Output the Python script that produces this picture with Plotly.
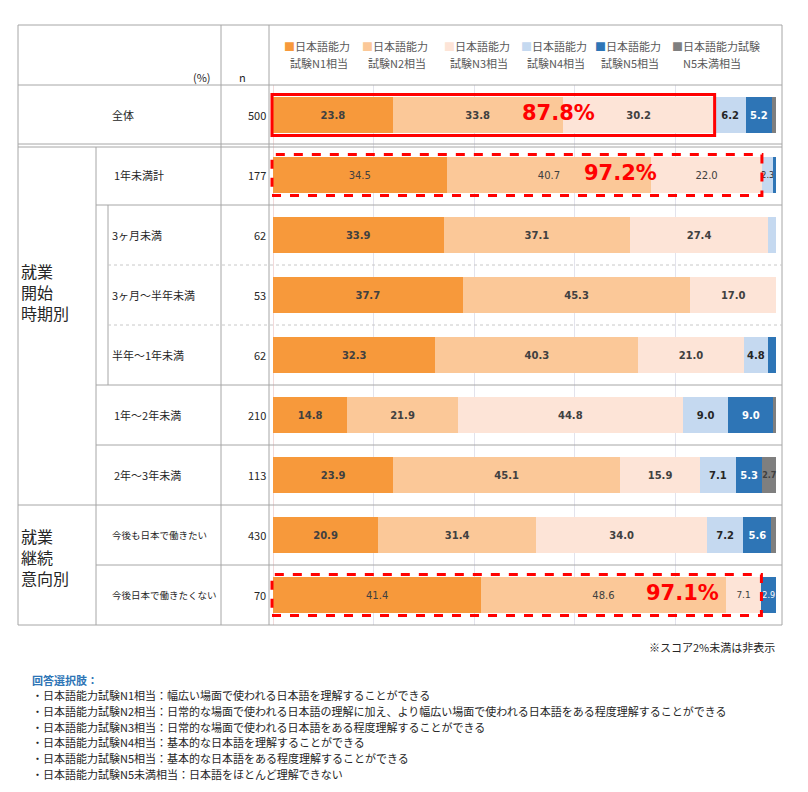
import plotly.graph_objects as go

# ---------------- data ----------------
categories = ["全体", "1年未満計", "3ヶ月未満", "3ヶ月～半年未満", "半年～1年未満",
              "1年～2年未満", "2年～3年未満", "今後も日本で働きたい", "今後日本で働きたくない"]
n_values = [500, 177, 62, 53, 62, 210, 113, 430, 70]

series_names = ["日本語能力試験N1相当", "日本語能力試験N2相当", "日本語能力試験N3相当",
                "日本語能力試験N4相当", "日本語能力試験N5相当", "日本語能力試験N5未満相当"]
legend_line1 = ["日本語能力", "日本語能力", "日本語能力", "日本語能力", "日本語能力", "日本語能力試験"]
legend_line2 = ["試験N1相当", "試験N2相当", "試験N3相当", "試験N4相当", "試験N5相当", "N5未満相当"]

n1 = [23.8, 34.5, 33.9, 37.7, 32.3, 14.8, 23.9, 20.9, 41.4]
n2 = [33.8, 40.7, 37.1, 45.3, 40.3, 21.9, 45.1, 31.4, 48.6]
n3 = [30.2, 22.0, 27.4, 17.0, 21.0, 44.8, 15.9, 34.0, 7.1]
n4 = [6.2, 2.3, 1.6, 0.0, 4.8, 9.0, 7.1, 7.2, 0.0]
n5 = [5.2, 0.5, 0.0, 0.0, 1.6, 9.0, 5.3, 5.6, 2.9]
below_n5 = [0.8, 0.0, 0.0, 0.0, 0.0, 0.5, 2.7, 0.9, 0.0]
series_values = [n1, n2, n3, n4, n5, below_n5]

group_labels = [["就業", "開始", "時期別"], ["就業", "継続", "意向別"]]
highlight_rows = ["全体", "1年未満計", "今後日本で働きたくない"]

footnote = "※スコア2%未満は非表示"
choices_title = "回答選択肢："
choices_desc = ["幅広い場面で使われる日本語を理解することができる",
                "日常的な場面で使われる日本語の理解に加え、より幅広い場面で使われる日本語をある程度理解することができる",
                "日常的な場面で使われる日本語をある程度理解することができる",
                "基本的な日本語を理解することができる",
                "基本的な日本語をある程度理解することができる",
                "日本語をほとんど理解できない"]

# ---------------- style ----------------
colors = ["#F7993B", "#FBC898", "#FDE4D7", "#C5D9F0", "#2E75B6", "#7F7F7F"]
label_colors = ["#404040", "#404040", "#404040", "#262626", "#FFFFFF", "#404040"]
JP = "Noto Sans CJK JP"
NUM = "DejaVu Sans"

OFF = 8                      # page body margin
W, H = 808 - 2 * OFF, 792 - 2 * OFF
PL, PR, PT, PB = 273, 776, 85, 625  # plot area in reference pixels
n_rows = len(categories)


def px_x(p):
    return (p - PL) / (PR - PL)


def px_y(p):
    return (PB - p) / (PB - PT)


fig = go.Figure()
for k, (name, vals) in enumerate(zip(series_names, series_values)):
    texts = [f"{v:.1f}" if v >= 2 else "" for v in vals]
    sizes = [10 if v >= 8 else (9 if v >= 4 and categories[i] == "今後日本で働きたくない"
                                else (10 if v >= 4 else 8))
             for i, v in enumerate(vals)]
    weights = ["normal" if categories[i] in ("1年未満計", "今後日本で働きたくない") else "bold"
               for i in range(n_rows)]
    fig.add_trace(go.Bar(
        name=name, y=categories, x=vals, orientation="h",
        marker=dict(color=colors[k], line=dict(width=0)),
        width=0.6,
        text=texts, textposition="inside", insidetextanchor="middle",
        textangle=0, constraintext="none", cliponaxis=False,
        textfont=dict(family=NUM, size=sizes, color=label_colors[k], weight=weights),
        hovertemplate="%{y}: %{x:.1f}%<extra>" + name + "</extra>",
        showlegend=False,
    ))

shapes = []
LINE = "#A6A6A6"


def hline(y, x0, x1, dash="solid", color=LINE, width=1):
    shapes.append(dict(type="line", xref="paper", yref="paper",
                       x0=px_x(x0), x1=px_x(x1), y0=px_y(y), y1=px_y(y),
                       line=dict(color=color, width=width, dash=dash), layer="above"))


def vline(x, y0, y1, color=LINE, width=1):
    shapes.append(dict(type="line", xref="paper", yref="paper",
                       x0=px_x(x), x1=px_x(x), y0=px_y(y0), y1=px_y(y1),
                       line=dict(color=color, width=width), layer="above"))


# table frame
L, R, T, B = 18, 782, 25, 625
hline(T, L, R)
hline(B, L, R)
vline(L, T, B)
vline(R, T, B)
hline(85, L, R)
hline(144, L, R)
hline(147, L, R)
vline(221, T, B)
vline(269, T, B)
vline(96, 147, B)
hline(205, 96, R)
vline(108, 205, 385)
hline(265, 108, R, dash="dot", color="#C8C8C8")
hline(325, 108, R, dash="dot", color="#C8C8C8")
hline(385, 96, R)
hline(445, 96, R)
hline(505, L, R)
hline(565, 96, R)

# red highlight boxes around N1+N2+N3
annotations = []
big_label_x = {"全体": 56.7, "1年未満計": 69.0, "今後日本で働きたくない": 81.5}
for r in highlight_rows:
    i = categories.index(r)
    top3 = n1[i] + n2[i] + n3[i]
    yc = 1 - (i + 0.5) / n_rows
    hh = 20.5 / (PB - PT)
    shapes.append(dict(type="rect", xref="paper", yref="paper",
                       x0=px_x(PL - 1), x1=top3 / 100, y0=yc - hh, y1=yc + hh,
                       line=dict(color="#FF0000", width=3,
                                 dash="solid" if i == 0 else "dash"),
                       fillcolor="rgba(0,0,0,0)", layer="above"))
    annotations.append(dict(x=big_label_x[r], y=r, xref="x", yref="y",
                            text=f"<b>{top3:.1f}%</b>", showarrow=False,
                            font=dict(family=NUM, size=21, color="#FF0000"),
                            xanchor="center", yanchor="middle", yshift=2))

# row labels and n
for i, c in enumerate(categories):
    size = 9.5 if c.startswith("今後") else 11
    xl = 112 if c in ("1年未満計", "1年～2年未満", "2年～3年未満") else 110
    annotations.append(dict(x=px_x(xl), y=c, xref="paper", yref="y", text=c,
                            showarrow=False, xanchor="left", yanchor="middle",
                            font=dict(family=JP, size=size, color="#262626")))
    annotations.append(dict(x=px_x(268), y=c, xref="paper", yref="y", text=str(n_values[i]),
                            showarrow=False, xanchor="right", yanchor="middle",
                            font=dict(family=JP, size=11, color="#262626")))

# group labels
for lines, yc in zip(group_labels, [292, 557]):
    annotations.append(dict(x=px_x(19), y=px_y(yc), xref="paper", yref="paper",
                            text="<br>".join(lines), align="left",
                            showarrow=False, xanchor="left", yanchor="middle",
                            font=dict(family=JP, size=16, color="#262626")))

# header
annotations.append(dict(x=px_x(213), y=px_y(77), xref="paper", yref="paper", text="(%)",
                        showarrow=False, xanchor="right", yanchor="middle",
                        font=dict(family=JP, size=11, color="#262626")))
annotations.append(dict(x=px_x(242), y=px_y(77), xref="paper", yref="paper", text="n",
                        showarrow=False, xanchor="center", yanchor="middle",
                        font=dict(family=JP, size=11, color="#262626")))

# legend (two-line header entries)
legend_cx = [317, 395, 477, 554, 628, 716]
for k in range(len(series_names)):
    annotations.append(dict(x=px_x(legend_cx[k]), y=px_y(46), xref="paper", yref="paper",
                            text=f"<span style='color:{colors[k]}'>■</span>{legend_line1[k]}",
                            showarrow=False, xanchor="center", yanchor="middle",
                            font=dict(family=JP, size=11, color="#595959")))
    annotations.append(dict(x=px_x(legend_cx[k] + (2 if k < 5 else -4)), y=px_y(63),
                            xref="paper", yref="paper", text=legend_line2[k],
                            showarrow=False, xanchor="center", yanchor="middle",
                            font=dict(family=JP, size=11, color="#595959")))

# footnote and answer options
annotations.append(dict(x=px_x(777), y=px_y(647), xref="paper", yref="paper", text=footnote,
                        showarrow=False, xanchor="right", yanchor="middle",
                        font=dict(family=JP, size=11, color="#262626")))
annotations.append(dict(x=px_x(30), y=px_y(680), xref="paper", yref="paper",
                        text=f"<b>{choices_title}</b>", showarrow=False,
                        xanchor="left", yanchor="middle",
                        font=dict(family=JP, size=11, color="#2E75B6")))
for j, (nm, desc) in enumerate(zip(series_names, choices_desc)):
    annotations.append(dict(x=px_x(30), y=px_y(695 + 15.8 * j), xref="paper", yref="paper",
                            text=f"・{nm}：{desc}", showarrow=False,
                            xanchor="left", yanchor="middle",
                            font=dict(family=JP, size=11, color="#262626")))

fig.update_layout(
    width=W, height=H,
    margin=dict(l=PL - OFF, r=W - (PR - OFF), t=PT - OFF, b=H - (PB - OFF), pad=0),
    barmode="stack", bargap=0.4,
    plot_bgcolor="white", paper_bgcolor="white",
    font=dict(family=JP, size=11, color="#262626"),
    xaxis=dict(range=[0, 100], tickvals=[20, 40, 60, 80, 100], showticklabels=False,
               showgrid=True, gridcolor="#E3E3EC", gridwidth=1, zeroline=True,
               zerolinecolor="#F2DADA", zerolinewidth=1, showline=False, fixedrange=True),
    yaxis=dict(categoryorder="array", categoryarray=categories, range=[n_rows - 0.5, -0.5],
               showticklabels=False, showgrid=False, zeroline=False, showline=False,
               fixedrange=True),
    shapes=shapes, annotations=annotations,
)

fig.write_html("out.html")
